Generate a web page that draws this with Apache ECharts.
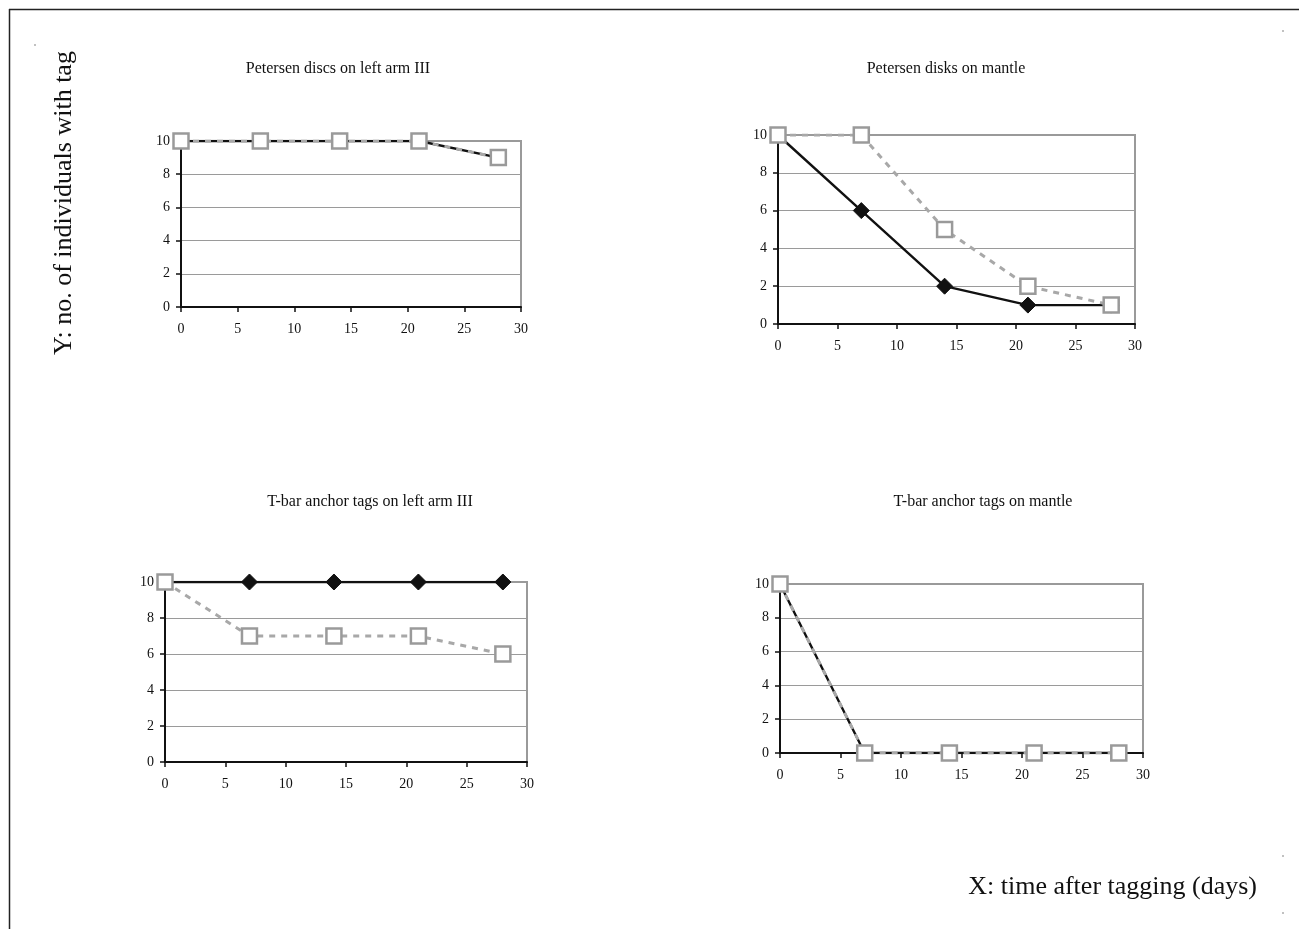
<!DOCTYPE html>
<html><head><meta charset="utf-8">
<script src="https://cdn.jsdelivr.net/npm/echarts@6/dist/echarts.min.js"></script>
<style>html,body{margin:0;padding:0;background:#fff}#c{width:1299px;height:929px}</style>
</head><body><div id="c"></div>
<script>
const days = [0, 7, 14, 21, 28];
const titles = ['Petersen discs on left arm III', 'Petersen disks on mantle', 'T-bar anchor tags on left arm III', 'T-bar anchor tags on mantle'];
const solidSeries = [
  [10, 10, 10, 10, 9],
  [10, 6, 2, 1, 1],
  [10, 10, 10, 10, 10],
  [10, 0, 0, 0, 0]
];
const dashedSeries = [
  [10, 10, 10, 10, 9],
  [10, 10, 5, 2, 1],
  [10, 7, 7, 7, 6],
  [10, 0, 0, 0, 0]
];
const xTicks = {min: 0, max: 30, interval: 5};
const yTicks = {min: 0, max: 10, interval: 2};
const yLabel = 'Y: no. of individuals with tag';
const xLabel = 'X: time after tagging (days)';

const FONT = '"Liberation Serif", "Times New Roman", serif';
const grids = [
  {left: 181, top: 141, width: 340, height: 166},
  {left: 778, top: 135, width: 357, height: 189},
  {left: 165, top: 582, width: 362, height: 180},
  {left: 780, top: 584, width: 363, height: 169}
];
const titlePos = [[338, 69], [946, 69], [370, 502], [983, 502]];
const cornerDots = [[35, 45], [1283, 31], [1283, 856], [1283, 913]];

const option = {
  animation: false,
  backgroundColor: '#fff',
  grid: grids.map(g => Object.assign({show: true, borderColor: '#9a9a9a', borderWidth: 2, backgroundColor: 'transparent'}, g)),
  xAxis: grids.map((g, i) => ({
    type: 'value', gridIndex: i, min: xTicks.min, max: xTicks.max, interval: xTicks.interval,
    axisLine: {show: true, onZero: false, lineStyle: {color: '#111', width: 2}},
    axisTick: {show: true, length: 5, lineStyle: {color: '#111', width: 1.5}},
    axisLabel: {color: '#111', fontFamily: FONT, fontSize: 14, margin: 15},
    splitLine: {show: false}
  })),
  yAxis: grids.map((g, i) => ({
    type: 'value', gridIndex: i, min: yTicks.min, max: yTicks.max, interval: yTicks.interval,
    axisLine: {show: true, onZero: false, lineStyle: {color: '#111', width: 2}},
    axisTick: {show: true, length: 5, lineStyle: {color: '#111', width: 1.5}},
    axisLabel: {color: '#111', fontFamily: FONT, fontSize: 14, margin: 11},
    splitLine: {show: true, lineStyle: {color: '#9a9a9a', width: 1}}
  })),
  series: [],
  graphic: []
};

for (let i = 0; i < 4; i++) {
  option.series.push({
    type: 'line', xAxisIndex: i, yAxisIndex: i, z: 3,
    data: days.map((d, k) => [d, solidSeries[i][k]]),
    lineStyle: {color: '#111', width: 2.4, type: 'solid'},
    symbol: 'diamond', symbolSize: 16, showAllSymbol: true,
    itemStyle: {color: '#111', borderColor: '#111'}
  });
  option.series.push({
    type: 'line', xAxisIndex: i, yAxisIndex: i, z: 4,
    data: days.map((d, k) => [d, dashedSeries[i][k]]),
    lineStyle: {color: '#a8a8a8', width: 3, type: [6, 6]},
    symbol: 'rect', symbolSize: 15, showAllSymbol: true,
    itemStyle: {color: '#fff', borderColor: '#9a9a9a', borderWidth: 2.5}
  });
  option.graphic.push({
    type: 'text', x: titlePos[i][0], y: titlePos[i][1],
    style: {text: titles[i], font: '16px ' + FONT, fill: '#111', textAlign: 'center', textVerticalAlign: 'middle'}
  });
}

option.graphic.push(
  {type: 'text', x: 64, y: 203, rotation: Math.PI / 2,
   style: {text: yLabel, font: '26px ' + FONT, fill: '#111', textAlign: 'center', textVerticalAlign: 'middle'}},
  {type: 'text', x: 1257, y: 887,
   style: {text: xLabel, font: '26px ' + FONT, fill: '#111', textAlign: 'right', textVerticalAlign: 'middle'}},
  {type: 'line', shape: {x1: 9, y1: 9.5, x2: 1299, y2: 9.5}, style: {stroke: '#222', lineWidth: 1.5}},
  {type: 'line', shape: {x1: 9.5, y1: 9, x2: 9.5, y2: 929}, style: {stroke: '#222', lineWidth: 1.5}}
);
cornerDots.forEach(p => option.graphic.push({type: 'circle', shape: {cx: p[0], cy: p[1], r: 0.7}, style: {fill: '#555'}}));

const chart = echarts.init(document.getElementById('c'), null, {renderer: 'canvas'});
chart.setOption(option);
</script>
</body></html>
